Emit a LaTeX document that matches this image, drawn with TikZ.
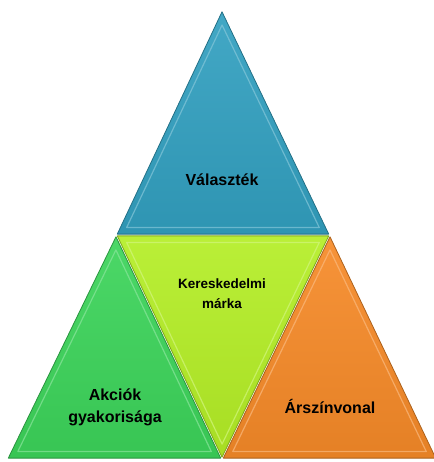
\documentclass[tikz,border=0pt]{standalone}
\usepackage{fontspec}
\setmainfont{Liberation Sans}
\usetikzlibrary{calc}

\definecolor{topblue}{RGB}{50,160,192}
\definecolor{limegreen}{RGB}{180,238,38}
\definecolor{leafgreen}{RGB}{60,212,90}
\definecolor{pumpkin}{RGB}{246,138,40}

\begin{document}
\begin{tikzpicture}[x=1pt,y=-1pt]
	\tikzstyle{label}=[font=\bfseries\fontsize{16}{22}\selectfont, align=center, text=black]
	\tikzstyle{small label}=[label, font=\bfseries\fontsize{13.5}{20}\selectfont]
	\useasboundingbox (0,0) rectangle (433,462);

	% corners of the pyramid
	\coordinate (apex) at (222,10);
	\coordinate (ml) at (116,235);
	\coordinate (mr) at (330,235);
	\coordinate (bl) at (7,459);
	\coordinate (bm) at (222,459);
	\coordinate (br) at (437,459);

	\foreach \a/\b/\c/\col in {apex/ml/mr/topblue, ml/mr/bm/limegreen, ml/bl/bm/leafgreen, mr/bm/br/pumpkin}{
		\coordinate (cen) at ($(\a)!0.5!(\b)!1/3!(\c)$);
		\shade[top color=\col!92!white, bottom color=\col!93!black, draw=\col!70!black, line width=0.8pt, line join=round]
			($(\a)!0.012!(cen)$) -- ($(\b)!0.012!(cen)$) -- ($(\c)!0.012!(cen)$) -- cycle;
		\draw[\col!60!white, line width=1.2pt, line join=round, opacity=0.7]
			($(\a)!0.1!(cen)$) -- ($(\b)!0.1!(cen)$) -- ($(\c)!0.1!(cen)$) -- cycle;
	}

	\node[label] (valasztek) at (222,180) {Választék};
	\node[small label] (marka) at (222,294) {Kereskedelmi\\márka};
	\node[label] (akciok) at (115,407) {Akciók\\gyakorisága};
	\node[label] (arszinvonal) at (330,406) {Árszínvonal};
\end{tikzpicture}
\end{document}
